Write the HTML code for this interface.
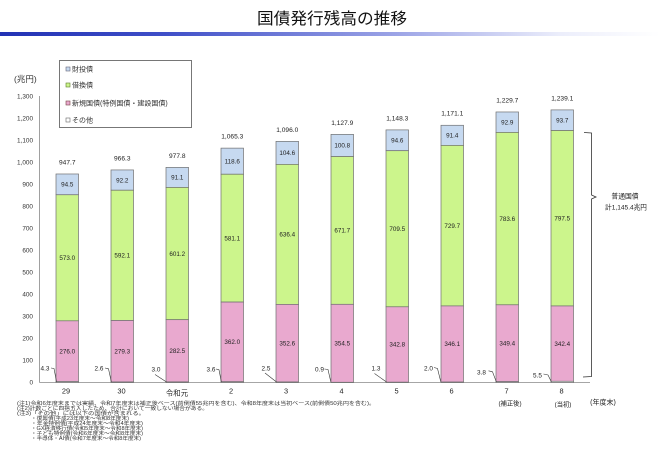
<!DOCTYPE html>
<html><head><meta charset="utf-8">
<style>
html,body{margin:0;padding:0;background:#fff;}
svg{display:block;}
text{font-family:"Liberation Sans","Noto Sans CJK JP",sans-serif;fill:#222;}
.yl{font-size:6.4px;text-anchor:end;fill:#333;}
.dl{font-size:6.3px;text-anchor:middle;fill:#222;}
.tl{font-size:6.6px;text-anchor:middle;fill:#222;}
.xl{font-size:7.4px;text-anchor:middle;fill:#222;}
.lg{font-size:7px;fill:#333;}
.fn{font-size:5px;fill:#333;}
.ol{font-size:6.4px;text-anchor:middle;fill:#222;}
</style></head>
<body>
<svg width="660" height="456" viewBox="0 0 660 456" xmlns="http://www.w3.org/2000/svg">
<defs>
<linearGradient id="gb" x1="0" y1="0" x2="1" y2="0">
<stop offset="0" stop-color="#2232b4"/>
<stop offset="0.25" stop-color="#3f4fc8"/>
<stop offset="0.6" stop-color="#9ca4e6"/>
<stop offset="0.85" stop-color="#eceefb"/>
<stop offset="1" stop-color="#ffffff"/>
</linearGradient>
</defs>
<rect width="660" height="456" fill="#fff"/>
<text x="332" y="24" font-size="16" text-anchor="middle" textLength="150" lengthAdjust="spacingAndGlyphs" style="fill:#111">国債発行残高の推移</text>
<rect x="0" y="32" width="660" height="4" fill="url(#gb)"/>

<!-- unit -->
<text x="14" y="82" font-size="8.5" style="fill:#333">(兆円)</text>

<!-- legend -->
<rect x="59.5" y="60.5" width="132" height="67" fill="#fff" stroke="#555" stroke-width="0.8"/>
<rect x="66" y="67" width="4" height="4" fill="#c6d9f0" stroke="#667" stroke-width="0.6"/>
<text class="lg" x="72" y="71.5">財投債</text>
<rect x="66" y="83" width="4" height="4" fill="#ccf58c" stroke="#5a7a2a" stroke-width="0.6"/>
<text class="lg" x="72" y="87.5">借換債</text>
<rect x="66" y="101" width="4" height="4" fill="#e9a9cf" stroke="#744" stroke-width="0.6"/>
<text class="lg" x="72" y="105.5">新規国債(特例国債・建設国債)</text>
<rect x="66" y="118" width="4" height="4" fill="#fff" stroke="#666" stroke-width="0.6"/>
<text class="lg" x="72" y="122.5">その他</text>

<!-- y axis -->
<line x1="39.5" y1="96" x2="39.5" y2="382.5" stroke="#888" stroke-width="0.8"/>
<line x1="39.5" y1="382.5" x2="590" y2="382.5" stroke="#888" stroke-width="0.8"/>
<text class="yl" x="33" y="98.5">1,300</text>
<text class="yl" x="33" y="120.5">1,200</text>
<text class="yl" x="33" y="142.5">1,100</text>
<text class="yl" x="33" y="164.5">1,000</text>
<text class="yl" x="33" y="186.5">900</text>
<text class="yl" x="33" y="208.5">800</text>
<text class="yl" x="33" y="230.5">700</text>
<text class="yl" x="33" y="252.5">600</text>
<text class="yl" x="33" y="274.5">500</text>
<text class="yl" x="33" y="296.5">400</text>
<text class="yl" x="33" y="318.5">300</text>
<text class="yl" x="33" y="340.5">200</text>
<text class="yl" x="33" y="362.5">100</text>
<text class="yl" x="33" y="384.5">0</text>

<g stroke="#707070" stroke-width="0.7">
<!-- bar 0 -->
<rect x="56" y="173.98" width="22.5" height="20.79" fill="#c6d9f0"/>
<rect x="56" y="194.77" width="22.5" height="126.06" fill="#ccf58c"/>
<rect x="56" y="320.83" width="22.5" height="60.72" fill="#e9a9cf"/>
<rect x="56" y="381.55" width="22.5" height="0.95" fill="#fff"/>
<!-- bar 1 -->
<rect x="111" y="169.94" width="22.5" height="20.28" fill="#c6d9f0"/>
<rect x="111" y="190.22" width="22.5" height="130.26" fill="#ccf58c"/>
<rect x="111" y="320.48" width="22.5" height="61.45" fill="#e9a9cf"/>
<rect x="111" y="381.93" width="22.5" height="0.57" fill="#fff"/>
<!-- bar 2 -->
<rect x="166" y="167.38" width="22.5" height="20.05" fill="#c6d9f0"/>
<rect x="166" y="187.43" width="22.5" height="132.26" fill="#ccf58c"/>
<rect x="166" y="319.69" width="22.5" height="62.15" fill="#e9a9cf"/>
<rect x="166" y="381.84" width="22.5" height="0.66" fill="#fff"/>
<!-- bar 3 -->
<rect x="221" y="148.13" width="22.5" height="26.10" fill="#c6d9f0"/>
<rect x="221" y="174.23" width="22.5" height="127.84" fill="#ccf58c"/>
<rect x="221" y="302.07" width="22.5" height="79.64" fill="#e9a9cf"/>
<rect x="221" y="381.71" width="22.5" height="0.79" fill="#fff"/>
<!-- bar 4 -->
<rect x="276" y="141.36" width="22.5" height="23.01" fill="#c6d9f0"/>
<rect x="276" y="164.37" width="22.5" height="140.01" fill="#ccf58c"/>
<rect x="276" y="304.38" width="22.5" height="77.57" fill="#e9a9cf"/>
<rect x="276" y="381.95" width="22.5" height="0.55" fill="#fff"/>
<!-- bar 5 -->
<rect x="331" y="134.36" width="22.5" height="22.18" fill="#c6d9f0"/>
<rect x="331" y="156.54" width="22.5" height="147.77" fill="#ccf58c"/>
<rect x="331" y="304.31" width="22.5" height="77.99" fill="#e9a9cf"/>
<rect x="331" y="382.30" width="22.5" height="0.2" fill="#fff"/>
<!-- bar 6 -->
<rect x="386" y="129.90" width="22.5" height="20.81" fill="#c6d9f0"/>
<rect x="386" y="150.71" width="22.5" height="156.09" fill="#ccf58c"/>
<rect x="386" y="306.80" width="22.5" height="75.41" fill="#e9a9cf"/>
<rect x="386" y="382.21" width="22.5" height="0.29" fill="#fff"/>
<!-- bar 7 -->
<rect x="441" y="125.28" width="22.5" height="20.10" fill="#c6d9f0"/>
<rect x="441" y="145.38" width="22.5" height="160.54" fill="#ccf58c"/>
<rect x="441" y="305.92" width="22.5" height="76.14" fill="#e9a9cf"/>
<rect x="441" y="382.06" width="22.5" height="0.44" fill="#fff"/>
<!-- bar 8 -->
<rect x="496" y="111.97" width="22.5" height="20.43" fill="#c6d9f0"/>
<rect x="496" y="132.40" width="22.5" height="172.40" fill="#ccf58c"/>
<rect x="496" y="304.80" width="22.5" height="76.86" fill="#e9a9cf"/>
<rect x="496" y="381.66" width="22.5" height="0.84" fill="#fff"/>
<!-- bar 9 -->
<rect x="551" y="109.90" width="22.5" height="20.61" fill="#c6d9f0"/>
<rect x="551" y="130.51" width="22.5" height="175.45" fill="#ccf58c"/>
<rect x="551" y="305.96" width="22.5" height="75.33" fill="#e9a9cf"/>
<rect x="551" y="381.29" width="22.5" height="1.21" fill="#fff"/>
</g>

<!-- segment labels -->
<g class="dl">
<text class="dl" x="67.25" y="186.6">94.5</text>
<text class="dl" x="67.25" y="260">573.0</text>
<text class="dl" x="67.25" y="353.4">276.0</text>

<text class="dl" x="122.25" y="182.3">92.2</text>
<text class="dl" x="122.25" y="257.6">592.1</text>
<text class="dl" x="122.25" y="353.4">279.3</text>

<text class="dl" x="177.25" y="179.6">91.1</text>
<text class="dl" x="177.25" y="255.8">601.2</text>
<text class="dl" x="177.25" y="353">282.5</text>

<text class="dl" x="232.25" y="163.4">118.6</text>
<text class="dl" x="232.25" y="240.4">581.1</text>
<text class="dl" x="232.25" y="344.1">362.0</text>

<text class="dl" x="287.25" y="155.1">104.6</text>
<text class="dl" x="287.25" y="236.6">636.4</text>
<text class="dl" x="287.25" y="345.4">352.6</text>

<text class="dl" x="342.25" y="147.7">100.8</text>
<text class="dl" x="342.25" y="232.6">671.7</text>
<text class="dl" x="342.25" y="345.5">354.5</text>

<text class="dl" x="397.25" y="142.5">94.6</text>
<text class="dl" x="397.25" y="230.9">709.5</text>
<text class="dl" x="397.25" y="346.7">342.8</text>

<text class="dl" x="452.25" y="137.5">91.4</text>
<text class="dl" x="452.25" y="227.8">729.7</text>
<text class="dl" x="452.25" y="346.2">346.1</text>

<text class="dl" x="507.25" y="124.4">92.9</text>
<text class="dl" x="507.25" y="220.8">783.6</text>
<text class="dl" x="507.25" y="345.4">349.4</text>

<text class="dl" x="562.25" y="122.4">93.7</text>
<text class="dl" x="562.25" y="220.4">797.5</text>
<text class="dl" x="562.25" y="345.8">342.4</text>
</g>

<!-- totals -->
<text class="tl" x="67.25" y="164.5">947.7</text>
<text class="tl" x="122.25" y="160.5">966.3</text>
<text class="tl" x="177.25" y="158">977.8</text>
<text class="tl" x="232.25" y="138.5">1,065.3</text>
<text class="tl" x="287.25" y="131.8">1,096.0</text>
<text class="tl" x="342.25" y="124.8">1,127.9</text>
<text class="tl" x="397.25" y="120.3">1,148.3</text>
<text class="tl" x="452.25" y="115.7">1,171.1</text>
<text class="tl" x="507.25" y="102.4">1,229.7</text>
<text class="tl" x="562.25" y="100.3">1,239.1</text>

<!-- other labels & leader lines -->
<g fill="none" stroke="#333" stroke-width="0.6">
<path d="M51,368 L54,368.5 L56.5,381.8"/>
<path d="M105,368 L108.5,368.8 L111.3,381.8"/>
<path d="M155,374.5 L166.5,382"/>
<path d="M216,369 L219,369.8 L221.3,381.8"/>
<path d="M265,373 L276.5,382"/>
<path d="M324.5,369 L328,369.5 L330.8,381.8"/>
<path d="M374.5,373.5 L386.5,382"/>
<path d="M434,367.5 L437.5,368.5 L440.8,381.8"/>
<path d="M488.5,370.8 L492.5,371.8 L496.3,381.8"/>
<path d="M543.5,374 L548,375 L551.3,381.8"/>
</g>
<text class="ol" x="45" y="370.3">4.3</text>
<text class="ol" x="99" y="370.3">2.6</text>
<text class="ol" x="156" y="371.3">3.0</text>
<text class="ol" x="211" y="371.3">3.6</text>
<text class="ol" x="266" y="370.3">2.5</text>
<text class="ol" x="319.5" y="371.3">0.9</text>
<text class="ol" x="376" y="370.3">1.3</text>
<text class="ol" x="428.5" y="370.3">2.0</text>
<text class="ol" x="481.5" y="374.3">3.8</text>
<text class="ol" x="537.5" y="377.3">5.5</text>

<!-- bracket -->
<path d="M584,132.5 L591.5,133 L591.5,195 L596,197 L591.5,199 L591.5,376.5 L583,377" fill="none" stroke="#333" stroke-width="0.8"/>
<text x="625" y="198.3" font-size="6.8" text-anchor="middle" style="fill:#222">普通国債</text>
<text x="626" y="209.5" font-size="6.6" text-anchor="middle" style="fill:#222">計1,145.4兆円</text>

<!-- x labels -->
<text class="xl" x="66" y="393.5">29</text>
<text class="xl" x="121.5" y="393.5">30</text>
<text class="xl" x="177" y="395.5">令和元</text>
<text class="xl" x="231" y="393.5">2</text>
<text class="xl" x="286" y="393.5">3</text>
<text class="xl" x="341.5" y="393.5">4</text>
<text class="xl" x="396.5" y="393.5">5</text>
<text class="xl" x="451.5" y="393.5">6</text>
<text class="xl" x="506.5" y="393.5">7</text>
<text class="xl" x="561.5" y="393.5">8</text>
<text x="510" y="405.5" font-size="6.3" text-anchor="middle" style="fill:#222">(補正後)</text>
<text x="563" y="406.5" font-size="6.3" text-anchor="middle" style="fill:#222">(当初)</text>
<text x="603" y="404.5" font-size="7" text-anchor="middle" style="fill:#222">(年度末)</text>

<!-- footnotes -->
<text class="fn" x="17" y="404.8" textLength="358" lengthAdjust="spacingAndGlyphs">(注1)令和6年度末までは実績、令和7年度末は補正後ベース(前倒債55兆円を含む)、令和8年度末は当初ベース(前倒債50兆円を含む)。</text>
<text class="fn" x="17" y="409.8" textLength="191" lengthAdjust="spacingAndGlyphs">(注2)計数ごとに四捨五入したため、合計において一致しない場合がある。</text>
<text class="fn" x="17" y="414.8" textLength="128" lengthAdjust="spacingAndGlyphs">(注3)「その他」には以下の国債が含まれる。</text>
<text class="fn" x="31" y="419.8" textLength="98" lengthAdjust="spacingAndGlyphs">・復興債(平成23年度末～令和8年度末)</text>
<text class="fn" x="31" y="424.8" textLength="112" lengthAdjust="spacingAndGlyphs">・年金特例債(平成24年度末～令和4年度末)</text>
<text class="fn" x="31" y="429.8" textLength="112" lengthAdjust="spacingAndGlyphs">・GX経済移行債(令和5年度末～令和8年度末)</text>
<text class="fn" x="31" y="434.8" textLength="112" lengthAdjust="spacingAndGlyphs">・子ども特例債(令和6年度末～令和8年度末)</text>
<text class="fn" x="31" y="439.8" textLength="110" lengthAdjust="spacingAndGlyphs">・半導体・AI債(令和7年度末～令和8年度末)</text>
</svg>
</body></html>
